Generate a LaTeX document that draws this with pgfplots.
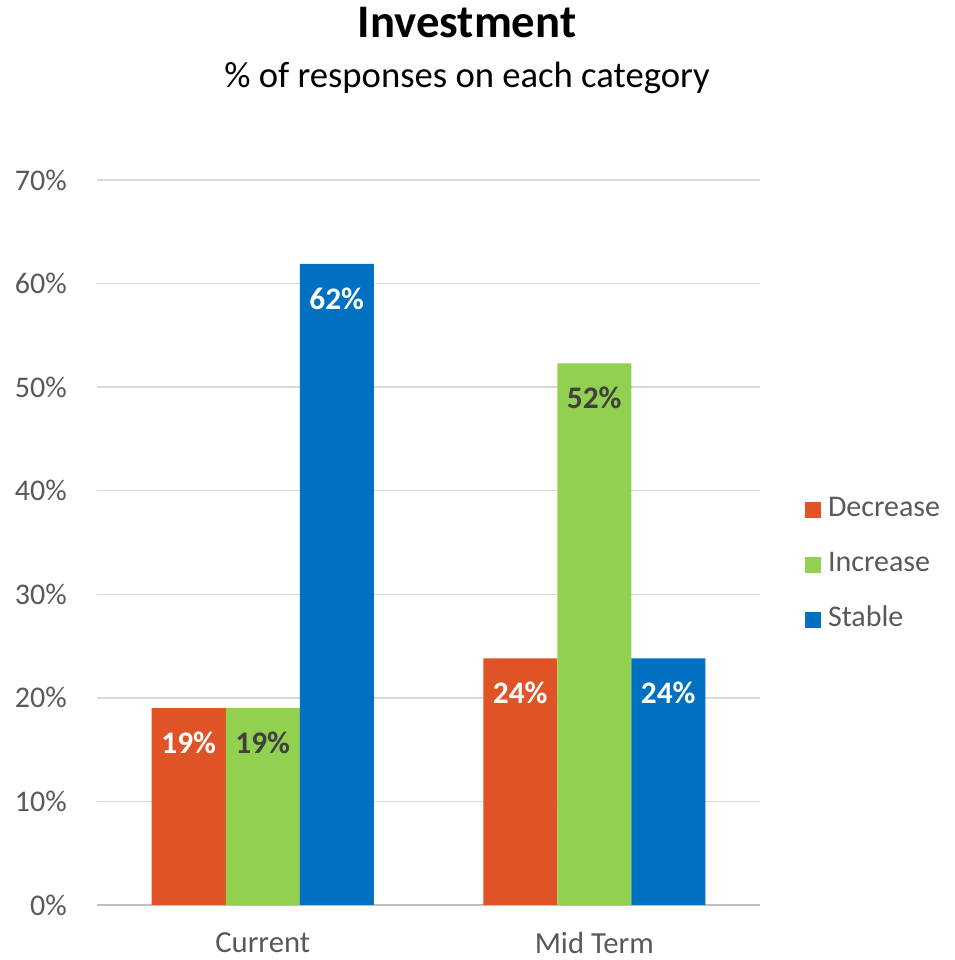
\documentclass[border=0pt]{standalone}
\usepackage{pgfplots}
\pgfplotsset{compat=1.18}
\usepackage{fontspec}
\setmainfont{Carlito}
\definecolor{cRed}{RGB}{224,83,38}
\definecolor{cGreen}{RGB}{146,208,80}
\definecolor{cBlue}{RGB}{0,112,192}
\definecolor{cGrid}{RGB}{217,217,217}
\definecolor{cAxis}{RGB}{191,191,191}
\definecolor{cText}{RGB}{89,89,89}
\definecolor{cDark}{RGB}{64,64,64}
\begin{document}
\begin{tikzpicture}
\path[use as bounding box] (-72.75pt,-41.25pt) rectangle (642.75pt,678.75pt);
\node[anchor=base, font=\bfseries\fontsize{35}{35}\selectfont] at (277.5pt,650.25pt) {Investment};
\node[anchor=base, font=\fontsize{27.5}{27.5}\selectfont] at (277.5pt,612.75pt) {\% of responses on each category};
\begin{axis}[
  at={(0,0)}, anchor=south west,
  scale only axis, width=497.25pt, height=543.75pt,
  xmin=-0.5, xmax=1.5, ymin=0, ymax=70,
  ybar=0pt, bar width=55.5pt,
  /pgf/number format/assume math mode=true,
  /pgf/number format/fixed, /pgf/number format/precision=0,
  xtick={0,1}, xticklabels={Current,Mid Term},
  ytick={0,10,...,70},
  yticklabel={\pgfmathprintnumber{\tick}\%},
  tick style={draw=none},
  axis line style={draw=none},
  ymajorgrids,
  grid style={color=cGrid, line width=1.1pt},
  extra y ticks={0}, extra y tick labels={},
  extra y tick style={grid style={color=cAxis, line width=1.2pt}},
  ticklabel style={text=cText, font=\fontsize{22.5}{22.5}\selectfont},
  yticklabel style={anchor=east, inner sep=0pt, xshift=-22.5pt},
  xticklabel style={anchor=north, inner sep=0pt, yshift=-16pt, font=\fontsize{23}{23}\selectfont},
  nodes near coords={\pgfmathprintnumber{\pgfplotspointmeta}\%},
  nodes near coords style={anchor=north, inner sep=0pt, yshift=-17.5pt, font=\bfseries\fontsize{23.5}{23.5}\selectfont},
  legend image code/.code={\fill[#1] (0pt,-6pt) rectangle (12pt,6pt);},
  legend style={at={(1.068,0.469)}, anchor=west, draw=none, fill=none, inner sep=0pt,
    row sep=23pt, font=\fontsize{22.5}{22.5}\selectfont, text=cText,
    nodes={inner xsep=5pt, inner ysep=0pt, text height=14pt, text depth=4pt}},
  legend cell align=left,
]
\addplot[fill=cRed, draw=none, nodes near coords style={text=white}] coordinates {(0,19) (1,23.8)};
\addplot[fill=cGreen, draw=none, nodes near coords style={text=cDark}] coordinates {(0,19) (1,52.3)};
\addplot[fill=cBlue, draw=none, nodes near coords style={text=white}] coordinates {(0,61.9) (1,23.8)};
\legend{Decrease,Increase,Stable}
\end{axis}
\end{tikzpicture}
\end{document}
